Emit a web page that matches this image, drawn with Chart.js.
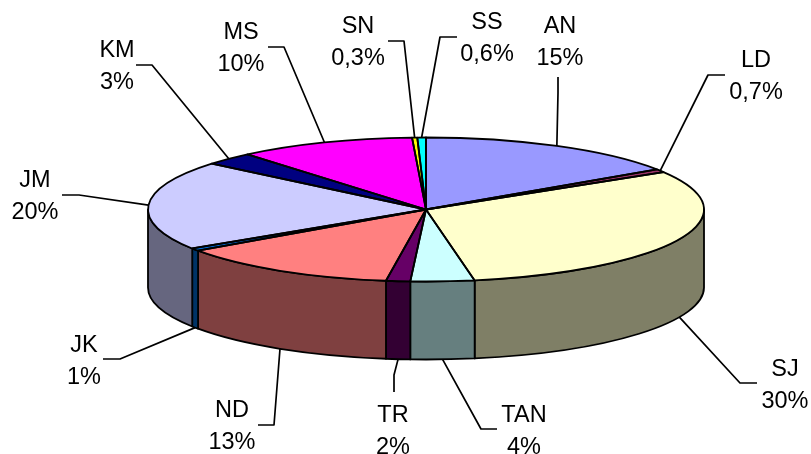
<!DOCTYPE html>
<html>
<head>
<meta charset="utf-8">
<style>
  html, body { margin: 0; padding: 0; background: #fff; }
  canvas { display: block; }
</style>
<script src="https://cdn.jsdelivr.net/npm/chart.js@4/dist/chart.umd.min.js"></script>
</head>
<body>
<canvas id="pie" width="811" height="454"></canvas>
<script>
// values
var categories = ['AN', 'LD', 'SJ', 'TAN', 'TR', 'ND', 'JK', 'JM', 'KM', 'MS', 'SN', 'SS'];
var shares = [15.6, 0.7, 30.9, 3.7, 1.4, 13.0, 0.6, 20.1, 2.9, 10.3, 0.3, 0.5];
var shareLabels = ['15%', '0,7%', '30%', '4%', '2%', '13%', '1%', '20%', '3%', '10%', '0,3%', '0,6%'];

// slice colours
var topColors = ['#9999ff', '#993366', '#ffffcc', '#ccffff', '#660066', '#ff8080', '#0066cc', '#ccccff', '#000080', '#ff00ff', '#ffff00', '#00ffff'];

// callouts: elbow and label placement, same order as categories
var elbows = [[558, 93], [708, 75], [740, 383], [481, 429], [394, 375], [274, 425], [120, 359], [79, 195], [152, 65], [284, 47], [404, 41], [440, 37]];
var tails = [[558, 77], [725, 75], [757, 383], [497, 429], [394, 392], [258, 425], [103, 359], [62, 195], [136, 65], [268, 47], [388, 41], [457, 37]];
var labelCentres = [[560, 41], [756, 75], [785, 384], [524, 430], [393, 430], [232, 425], [84, 360], [35, 195], [117, 65], [241, 47], [358, 41], [487, 37]];

var RX = 278;
var SQUASH = 72 / 278;
var DEPTH = 78;
var FONT = '23.5px "Liberation Sans", Arial, sans-serif';

function halfColor(hex) {
    var n = parseInt(hex.slice(1), 16);
    return 'rgb(' + ((n >> 16) >> 1) + ',' + (((n >> 8) & 255) >> 1) + ',' + ((n & 255) >> 1) + ')';
}

function normAngle(a) {
    a = a % (2 * Math.PI);
    return a < 0 ? a + 2 * Math.PI : a;
}

// flat pie from chart.js, squashed into an ellipse, with a wall under it
var tiltPlugin = {
    id: 'tilt',
    beforeDatasetsDraw: function (chart) {
        var ctx = chart.ctx;
        var arcs = chart.getDatasetMeta(0).data;
        var cx = arcs[0].x, cy = arcs[0].y, ry = RX * SQUASH;

        ctx.save();
        ctx.lineWidth = 1.8;
        ctx.strokeStyle = '#000';
        ctx.lineJoin = 'round';
        arcs.forEach(function (arc, i) {
            // only the part of a slice facing the viewer has a wall
            var a0 = normAngle(arc.startAngle);
            var a1 = a0 + (arc.endAngle - arc.startAngle);
            var parts = [[a0, a1], [a0 - 2 * Math.PI, a1 - 2 * Math.PI]];
            parts.forEach(function (p) {
                var s = Math.max(p[0], 0), e = Math.min(p[1], Math.PI);
                if (e <= s) return;
                ctx.beginPath();
                ctx.ellipse(cx, cy, RX, ry, 0, s, e);
                ctx.ellipse(cx, cy + DEPTH, RX, ry, 0, e, s, true);
                ctx.closePath();
                ctx.fillStyle = halfColor(topColors[i]);
                ctx.fill();
                ctx.stroke();
            });
        });
        ctx.restore();

        ctx.save();
        ctx.translate(cx, cy);
        ctx.scale(1, SQUASH);
        ctx.translate(-cx, -cy);
    },
    afterDatasetsDraw: function (chart) {
        var ctx = chart.ctx;
        ctx.restore();

        var arcs = chart.getDatasetMeta(0).data;
        var cx = arcs[0].x, cy = arcs[0].y, ry = RX * SQUASH;

        // outlines after the restore so the line is not squashed too
        ctx.save();
        ctx.lineWidth = 1.8;
        ctx.strokeStyle = '#000';
        ctx.lineJoin = 'round';
        arcs.forEach(function (arc) {
            ctx.beginPath();
            ctx.moveTo(cx, cy);
            ctx.ellipse(cx, cy, RX, ry, 0, arc.startAngle, arc.endAngle);
            ctx.closePath();
            ctx.stroke();
        });

        // callouts
        ctx.lineWidth = 1.7;
        ctx.fillStyle = '#000';
        ctx.font = FONT;
        ctx.textAlign = 'center';
        ctx.textBaseline = 'middle';
        arcs.forEach(function (arc, i) {
            var mid = (arc.startAngle + arc.endAngle) / 2;
            var x = cx + RX * Math.cos(mid);
            var y = cy + ry * Math.sin(mid);
            if (Math.sin(mid) > 0) y += DEPTH;
            ctx.beginPath();
            ctx.moveTo(x, y);
            ctx.lineTo(elbows[i][0], elbows[i][1]);
            ctx.lineTo(tails[i][0], tails[i][1]);
            ctx.stroke();
            ctx.fillText(categories[i], labelCentres[i][0], labelCentres[i][1] - 14);
            ctx.fillText(shareLabels[i], labelCentres[i][0], labelCentres[i][1] + 18);
        });
        ctx.restore();
    }
};

new Chart(document.getElementById('pie').getContext('2d'), {
    type: 'pie',
    data: {
        labels: categories,
        datasets: [{
            data: shares,
            backgroundColor: topColors,
            borderWidth: 0
        }]
    },
    options: {
        responsive: false,
        animation: false,
        radius: RX,
        layout: { padding: { left: 41, bottom: 35 } },
        plugins: { legend: { display: false }, tooltip: { enabled: false } }
    },
    plugins: [tiltPlugin]
});
</script>
</body>
</html>
